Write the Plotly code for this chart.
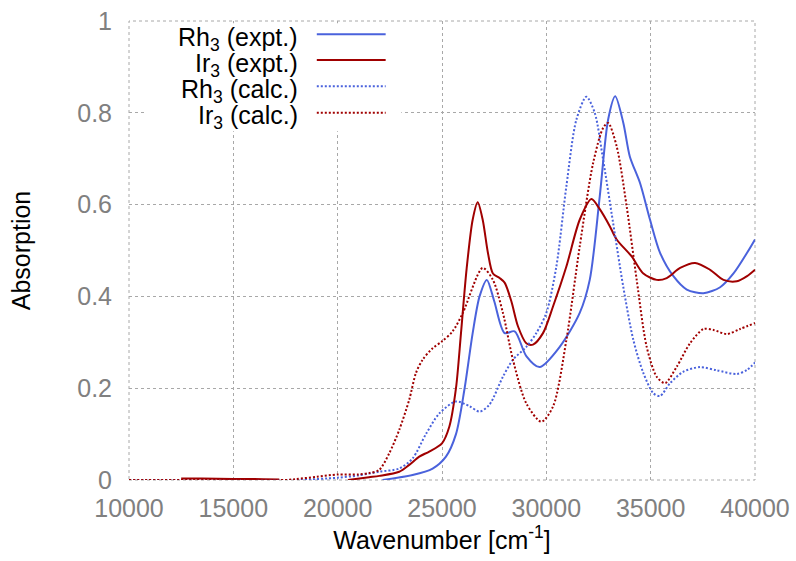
import plotly.graph_objects as go

# wavenumber (cm^-1) and absorption
rh_expt_x = [22150, 23590, 24550, 25190, 25670, 26070, 26470, 26800, 27150, 27500, 28000, 28480,
             29040, 29680, 30640, 31600, 32080, 32560, 32960, 33300, 33690, 34000, 34490, 34970,
             35450, 36090, 36730, 37530, 38330, 38970, 39620, 40000]
rh_expt_y = [0.0, 0.011, 0.025, 0.051, 0.10, 0.196, 0.32, 0.40, 0.436, 0.39, 0.32, 0.324,
             0.27, 0.246, 0.29, 0.364, 0.436, 0.618, 0.785, 0.836, 0.778, 0.705, 0.647, 0.567,
             0.495, 0.444, 0.415, 0.407, 0.42, 0.45, 0.495, 0.524]

ir_expt_x = [12500, 13500, 15000, 16000, 17200, None, 20500, 21500, 22000, 22950, 23430, 23910,
             24390, 25000, 25350, 25670, 25910, 26180, 26470, 26710, 26950, 27200, 27440, 27760,
             28000, 28320, 28640, 29040, 29360, 29840, 30320, 30960, 31600, 32160, 32560, 33040,
             33370, 34090, 34650, 35290, 35770, 36410, 37130, 37850, 38490, 39130, 39620, 40000]
ir_expt_y = [0.003, 0.003, 0.002, 0.002, 0.001, None, 0.0, 0.006, 0.009, 0.018, 0.033, 0.051,
             0.062, 0.08, 0.116, 0.2, 0.32, 0.46, 0.567, 0.605, 0.567, 0.495, 0.45, 0.44,
             0.43, 0.39, 0.335, 0.298, 0.295, 0.32, 0.378, 0.465, 0.567, 0.612, 0.59, 0.553,
             0.524, 0.487, 0.45, 0.436, 0.44, 0.462, 0.473, 0.458, 0.436, 0.433, 0.444, 0.458]

rh_calc_x = [10000, 15000, 18000, 20000, 21000, 21990, 22950, 23590, 24230, 24870, 25670, 26310,
             26800, 27270, 27920, 28400, 29040, 29520, 30000, 30480, 30960, 31440,
             31920, 32320, 32720, 33200, 33690, 34170, 34650, 35130, 35450, 35930, 36570, 37370,
             38170, 39130, 39620, 40000]
rh_calc_y = [0.0, 0.0, 0.0, 0.005, 0.01, 0.018, 0.025, 0.047, 0.10, 0.145, 0.171, 0.161,
             0.149, 0.164, 0.225, 0.262, 0.29, 0.32, 0.364, 0.465, 0.64, 0.785,
             0.835, 0.8, 0.698, 0.56, 0.42, 0.305, 0.233, 0.189, 0.183, 0.211, 0.236, 0.246,
             0.239, 0.231, 0.24, 0.256]

ir_calc_x = [10000, 15000, 17500, 18000, 19000, 20000, 21000, 21500, 21990, 22470, 22950, 23430,
             23750, 24070, 24550, 25000, 25510, 26000, 26950, 27440, 27920, 28400, 29040, 29760, 30320,
             30960, 31600, 32240, 32720, 32960, 33370, 33850, 34330, 34810, 35290, 35690, 36250,
             36890, 37530, 38010, 38650, 39280, 40000]
ir_calc_y = [0.0, 0.0, 0.0, 0.002, 0.007, 0.012, 0.012, 0.015, 0.022, 0.058, 0.109, 0.175,
             0.233, 0.262, 0.287, 0.302, 0.324, 0.364, 0.462, 0.436, 0.364, 0.262, 0.167, 0.127, 0.16,
             0.305, 0.509, 0.69, 0.767, 0.778, 0.727, 0.596, 0.436, 0.29, 0.225, 0.211, 0.247,
             0.298, 0.329, 0.327, 0.318, 0.329, 0.342]

names = ["Rh<sub>3</sub> (expt.)", "Ir<sub>3</sub> (expt.)",
         "Rh<sub>3</sub> (calc.)", "Ir<sub>3</sub> (calc.)"]
colors = ["#4a62dc", "#a00000", "#4a62dc", "#a00000"]
dashes = ["solid", "solid", "2px,2px", "2px,2px"]

xs = [rh_expt_x, ir_expt_x, rh_calc_x, ir_calc_x]
ys = [rh_expt_y, ir_expt_y, rh_calc_y, ir_calc_y]

fig = go.Figure()
for x, y, name, c, d in zip(xs, ys, names, colors, dashes):
    fig.add_trace(go.Scatter(x=x, y=y, name=name, mode="lines",
                             line=dict(color=c, width=2, dash=d, shape="spline", smoothing=0.8),
                             connectgaps=False))

font = "Liberation Sans, Arial, sans-serif"
grid = dict(showgrid=True, gridcolor="#a8a8a8", griddash="dot", gridwidth=1,
            zeroline=False, showline=False, ticks="", automargin=False,
            tickfont=dict(family=font, size=25, color="#808080"))

fig.update_xaxes(range=[10000, 40000], dtick=5000, tickformat="d",
                 ticklabelstandoff=11,
                 title=dict(text="Wavenumber [cm<sup>-1</sup>]", standoff=6,
                            font=dict(family=font, size=25, color="black")), **grid)
fig.update_yaxes(range=[0, 1], dtick=0.2, ticklabelstandoff=16,
                 title=dict(text="Absorption", standoff=39,
                            font=dict(family=font, size=25, color="black")), **grid)

# frame and gnuplot-style key
fig.add_shape(type="rect", xref="paper", yref="paper", x0=0, x1=1, y0=0, y1=1,
              line=dict(color="#a8a8a8", width=1, dash="dot"), layer="below")
fig.add_shape(type="rect", xref="paper", yref="paper", x0=0.025, x1=0.435, y0=0.76, y1=0.995,
              fillcolor="white", line=dict(width=0), layer="above")
key_y = [0.961, 0.905, 0.848, 0.79]
for name, c, d, ky in zip(names, colors, dashes, key_y):
    fig.add_annotation(x=0.273, y=ky, xref="paper", yref="paper", text=name, showarrow=False,
                       xanchor="right", yanchor="middle",
                       font=dict(family=font, size=25, color="black"))
    fig.add_shape(type="line", xref="paper", yref="paper", x0=0.30, x1=0.41, y0=ky + 0.01, y1=ky + 0.01,
                  line=dict(color=c, width=2, dash=d), layer="above")

fig.update_layout(width=796, height=561, showlegend=False,
                  plot_bgcolor="white", paper_bgcolor="white",
                  margin=dict(l=129, r=41, t=21, b=81),
                  font=dict(family=font))

# drop the page's default body margin so the figure sits at the window's corner
fig.write_html("out.html", config={"displayModeBar": False},
               post_script="document.body.style.margin='0px';")
